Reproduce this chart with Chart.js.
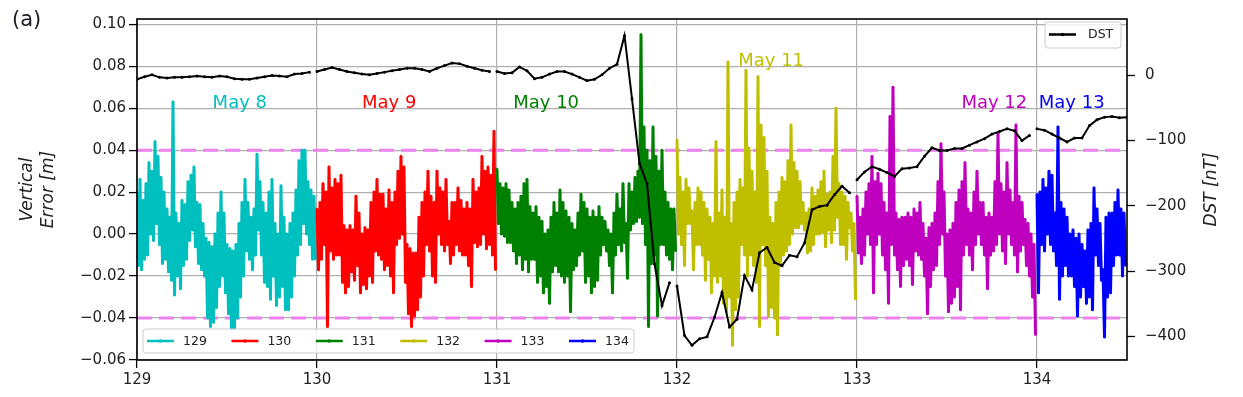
<!DOCTYPE html>
<html>
<head>
<meta charset="utf-8">
<script src="https://cdn.jsdelivr.net/npm/chart.js@4.4.1/dist/chart.umd.min.js"></script>
<style>
  html, body { margin: 0; padding: 0; background: #fff; }
  #wrap { width: 1243px; height: 397px; }
</style>
</head>
<body>
<div id="wrap"><canvas id="chart" width="1243" height="397"></canvas></div>
<script>
// Day of year for each series, and its date label
const days = [129, 130, 131, 132, 133, 134];
const dayLabels = ['May 8', 'May 9', 'May 10', 'May 11', 'May 12', 'May 13'];

// Vertical error in mm: highest and lowest sample in each 24-min bin (1/60 day)
const BIN = 1 / 60;
const hi129 = [20,26,16,24,34,30,44,37,27,20, 12,8,63,10,5,16,14,25,28,32, 15,14,5,-2,-4,-6,0,10,20,10,
  -5,-7,-8,-5,5,15,26,15,8,12, 38,25,15,10,20,26,5,0,23,8, 0,5,10,21,35,40,40,25,21,18];
const lo129 = [-15,-17,-12,-10,0,-3,5,-5,-14,-12, -18,-22,-29,-20,-26,-15,-12,-3,2,-6, -14,-17,-20,-40,-44,-42,-35,-25,-20,-28,
  -38,-45,-45,-40,-30,-20,-8,-12,-17,-10, 2,-10,-23,-25,-31,-20,-34,-30,-25,-36, -36,-30,-20,-10,-5,5,0,-5,-12,-12];
const hi130 = [12,15,24,20,32,22,26,24,28,4, 2,4,2,18,10,0,3,2,15,20, 26,19,19,12,21,15,20,30,37,32,
  -5,-7,-9,-9,8,15,20,30,18,15, 30,22,20,26,6,15,15,22,16,12, 15,12,26,20,22,37,30,32,28,49];
const lo130 = [-17,-12,-5,-44,-8,-12,-10,-10,-23,-28, -25,-18,-22,-15,-28,-24,-26,-20,-23,-8, -10,-12,-17,-15,-20,-28,-5,-2,0,-23,
  -38,-44,-39,-36,-30,-20,-5,-8,-20,-23, 0,-5,-8,-5,-14,-10,-5,-8,-10,-10, -15,-25,-4,-6,-5,0,-7,-5,-10,-17];
const hi131 = [31,24,22,24,21,15,12,15,18,24, 26,13,10,13,8,6,0,2,8,15, 10,21,15,11,8,5,2,10,19,15,
  12,8,11,8,13,8,6,2,0,10, 19,12,24,5,24,20,27,30,95,51, 40,35,51,37,30,40,20,15,12,12];
const lo131 = [5,0,-1,-4,-4,-8,-14,-10,-17,-12, -18,-12,-12,-23,-20,-28,-25,-33,-18,-15, -18,-20,-23,-20,-37,-17,-15,-10,-8,-23,
  -20,-28,-25,-22,-10,-5,-8,-15,-28,-10, -5,-8,-4,-21,2,5,6,8,5,-5, -44,-14,-10,-39,-5,-5,-10,-12,-17,-8];
const hi132 = [45,27,20,26,22,11,15,22,20,15, 12,8,5,44,10,21,8,82,5,15, 20,26,22,78,41,30,20,75,52,46,
  30,8,5,15,20,27,25,35,52,34, 30,25,15,10,12,22,18,21,25,30, 19,20,37,60,24,20,18,15,10,5];
const lo132 = [0,-5,-15,5,5,-17,-5,-5,-10,-22, -12,-28,-20,-23,-20,-33,-37,-30,-53,-36, -30,-5,-10,-20,-10,-15,-23,-44,-5,-15,
  -39,-35,-40,-48,-15,-10,-8,-5,0,3, 3,5,2,-9,-8,-5,0,0,1,-6, 2,-4,2,8,-5,-5,-12,3,-8,-31];
const hi133 = [18,8,12,20,24,37,25,29,24,15, 10,56,70,10,7,8,8,10,8,12, 10,15,5,-2,3,5,10,25,43,20,
  0,2,5,15,21,25,34,12,10,20, 30,15,15,8,10,8,25,48,24,20, 34,21,15,52,18,15,7,5,0,-5];
const lo133 = [-9,-14,-10,0,-5,-28,-5,0,-10,-17, -33,-5,-10,-17,-25,-15,-12,-15,-24,-8, -10,-12,-20,-38,-25,-17,-15,-5,0,-20,
  -37,-33,-30,-25,-36,-10,-5,-10,-17,-5, 0,-5,-10,-26,-10,-8,-5,0,-8,-14, 0,-5,-10,-18,-8,-5,-15,-20,-30,-48];
const hi134 = [19,20,26,22,30,28,10,51,15,12, 8,0,2,-2,0,-5,-8,2,5,22, 12,5,-17,8,10,10,15,21,12,10];
const lo134 = [-28,-5,-8,0,-5,-8,-15,-31,-20,-15, -20,-20,-25,-39,-30,-25,-33,-30,-36,-10, -15,-22,-49,-30,-28,-15,-10,-10,-20,-15];

// Hourly DST index [nT]
const dst129 = [-6,-2,1,-3,-4,-3,-3,-2,-1,-2,-3,-1,-2,-5,-6,-6,-4,-2,0,-1,-2,2,3,5];
const dst130 = [6,9,12,9,6,4,2,1,3,5,7,9,11,11,9,6,11,15,19,18,14,11,8,6];
const dst131 = [6,3,4,13,7,-5,-3,2,6,6,2,-3,-8,-6,1,11,17,61,-36,-135,-166,-289,-353,-318];
const dst132 = [-323,-399,-414,-404,-401,-371,-333,-386,-374,-307,-329,-272,-264,-287,-292,-276,-278,-257,-206,-201,-199,-183,-170,-180];
const dst133 = [-160,-148,-140,-144,-149,-155,-143,-142,-140,-124,-111,-115,-115,-112,-112,-107,-102,-97,-90,-86,-82,-85,-100,-92];
const dst134 = [-82,-84,-90,-96,-102,-96,-96,-77,-68,-64,-63,-65,-64];

// Error limits and tick labels
const errLimits = [0.04, -0.04];
const xTicks = [129, 130, 131, 132, 133, 134];
const errTicks = [-0.06, -0.04, -0.02, 0.00, 0.02, 0.04, 0.06, 0.08, 0.10];
const dstTicks = [-400, -300, -200, -100, 0];

const dayColors = ['#00bfbf', '#ff0000', '#008000', '#bfbf00', '#bf00bf', '#0000ff'];
const FONT = '"DejaVu Sans", "Liberation Sans", sans-serif';
const X_MIN = 129, X_MAX = 134.5;
// where each date label sits, in data units (day, metres)
const labelAnchors = [[129.42, 0.06], [130.25, 0.06], [131.09, 0.06], [132.34, 0.08], [133.58, 0.06], [134.01, 0.06]];

// high then low of every bin, so the trace sweeps the whole band like the raw 1-s series
function binTrace(day, hi, lo) {
    const pts = [];
    const n = Math.min(hi.length, lo.length);
    for (let i = 0; i < n; i++) {
        pts.push({ x: day + i * BIN, y: hi[i] / 1000 });
        pts.push({ x: day + (i + 0.5) * BIN, y: lo[i] / 1000 });
    }
    return pts;
}

const errBins = [[hi129, lo129], [hi130, lo130], [hi131, lo131], [hi132, lo132], [hi133, lo133], [hi134, lo134]];
const errDatasets = errBins.map(([hi, lo], k) => ({
    label: String(days[k]),
    data: binTrace(days[k], hi, lo),
    borderColor: dayColors[k],
    backgroundColor: dayColors[k],
    borderWidth: 3,
    borderJoinStyle: 'round',
    pointRadius: 1.2,
    pointBorderWidth: 0,
    pointHoverRadius: 0,
    yAxisID: 'y',
    order: 10 - k
}));

// DST is drawn day by day, so break the line between days
const dstSeries = [dst129, dst130, dst131, dst132, dst133, dst134];
const dstData = [];
dstSeries.forEach((vals, k) => {
    vals.forEach((v, h) => dstData.push({ x: days[k] + h / 24, y: v }));
    dstData.push({ x: days[k] + (vals.length - 0.5) / 24, y: null });
});

const limitDatasets = errLimits.map(lim => ({
    label: 'limit',
    data: [{ x: X_MIN, y: lim }, { x: X_MAX, y: lim }],
    borderColor: '#ee82ee',
    borderWidth: 3,
    borderDash: [15, 7],
    pointRadius: 0,
    yAxisID: 'y',
    order: 30
}));

function legendBox(ctx, x, y, w, h) {
    ctx.beginPath();
    ctx.roundRect(x, y, w, h, 3);
    ctx.fillStyle = 'rgba(255,255,255,0.8)';
    ctx.fill();
    ctx.strokeStyle = '#cccccc';
    ctx.lineWidth = 1;
    ctx.stroke();
}

function legendSample(ctx, x, y, color, lw) {
    ctx.strokeStyle = color;
    ctx.lineWidth = lw;
    ctx.beginPath();
    ctx.moveTo(x, y);
    ctx.lineTo(x + 27, y);
    ctx.stroke();
    ctx.fillStyle = color;
    ctx.beginPath();
    ctx.arc(x + 13.5, y, 1.8, 0, Math.PI * 2);
    ctx.fill();
}

const overlay = {
    id: 'overlay',
    afterDraw(chart) {
        const { ctx, chartArea: a, scales } = chart;
        ctx.save();

        // date labels
        ctx.font = '18px ' + FONT;
        ctx.textAlign = 'left';
        ctx.textBaseline = 'alphabetic';
        dayLabels.forEach((t, i) => {
            ctx.fillStyle = dayColors[i];
            ctx.fillText(t, scales.x.getPixelForValue(labelAnchors[i][0]), scales.y.getPixelForValue(labelAnchors[i][1]));
        });

        // frame
        ctx.strokeStyle = '#000';
        ctx.lineWidth = 1.6;
        ctx.strokeRect(a.left, a.top, a.right - a.left, a.bottom - a.top);

        // day legend, lower left
        legendBox(ctx, 143, 329, 491, 24);
        ctx.font = '12.5px ' + FONT;
        ctx.textBaseline = 'middle';
        days.forEach((d, k) => {
            const lx = 147 + k * 84.4;
            legendSample(ctx, lx, 341, dayColors[k], 2.5);
            ctx.fillStyle = '#222';
            ctx.fillText(String(d), lx + 36, 341.5);
        });

        // DST legend, upper right
        legendBox(ctx, 1045, 22, 76, 26);
        legendSample(ctx, 1049, 34.5, '#000', 2.5);
        ctx.fillStyle = '#222';
        ctx.fillText('DST', 1088, 35);

        // axis titles
        ctx.font = 'italic 17px ' + FONT;
        ctx.textAlign = 'center';
        ctx.fillStyle = '#222';
        const midY = (a.top + a.bottom) / 2;
        [['Vertical', 28], ['Error [m]', 49], ['DST [nT]', 1212]].forEach(([t, cx]) => {
            ctx.save();
            ctx.translate(cx, midY);
            ctx.rotate(-Math.PI / 2);
            ctx.fillText(t, 0, 0);
            ctx.restore();
        });

        // panel tag
        ctx.font = '21px ' + FONT;
        ctx.textAlign = 'left';
        ctx.fillStyle = '#1c1c24';
        ctx.fillText('(a)', 12, 21);

        ctx.restore();
    }
};

const tickFont = { family: FONT, size: 15 };
const minus = s => s.replace('-', '\u2212');

new Chart(document.getElementById('chart'), {
    type: 'line',
    data: {
        datasets: [
            { label: 'DST', data: dstData, borderColor: '#000', backgroundColor: '#000', borderWidth: 2,
              pointRadius: 1.5, pointBorderWidth: 0, pointHoverRadius: 0, yAxisID: 'y2', order: 0 },
            ...errDatasets,
            ...limitDatasets
        ]
    },
    options: {
        responsive: false,
        animation: false,
        devicePixelRatio: 1,
        layout: { padding: { top: 16, left: 0, right: 0, bottom: 0 } },
        plugins: { legend: { display: false }, tooltip: { enabled: false } },
        scales: {
            x: {
                type: 'linear', min: X_MIN, max: X_MAX,
                afterBuildTicks: s => { s.ticks = xTicks.map(v => ({ value: v })); },
                afterFit: s => { s.height = 37; },
                border: { display: false },
                grid: { color: '#b0b0b0', lineWidth: 1.2, tickColor: '#000', tickLength: 8, tickWidth: 1.3 },
                ticks: { color: '#222', font: tickFont, padding: 3, maxRotation: 0, callback: v => String(v) }
            },
            y: {
                position: 'left', min: -0.06, max: 0.1025,
                afterBuildTicks: s => { s.ticks = errTicks.map(v => ({ value: v })); },
                afterFit: s => { s.width = 137; },
                border: { display: false },
                grid: { color: '#b0b0b0', lineWidth: 1.2, tickColor: '#000', tickLength: 8, tickWidth: 1.3 },
                ticks: { color: '#222', font: tickFont, padding: 3, callback: v => minus(v.toFixed(2)) }
            },
            y2: {
                position: 'right', min: -436.5, max: 86.5,
                afterBuildTicks: s => { s.ticks = dstTicks.map(v => ({ value: v })); },
                afterFit: s => { s.width = 116; },
                border: { display: false },
                grid: { drawOnChartArea: false, tickColor: '#000', tickLength: 8, tickWidth: 1.3 },
                ticks: { color: '#222', font: tickFont, padding: 10, callback: v => minus(String(v)) }
            }
        }
    },
    plugins: [overlay]
});
</script>
</body>
</html>
